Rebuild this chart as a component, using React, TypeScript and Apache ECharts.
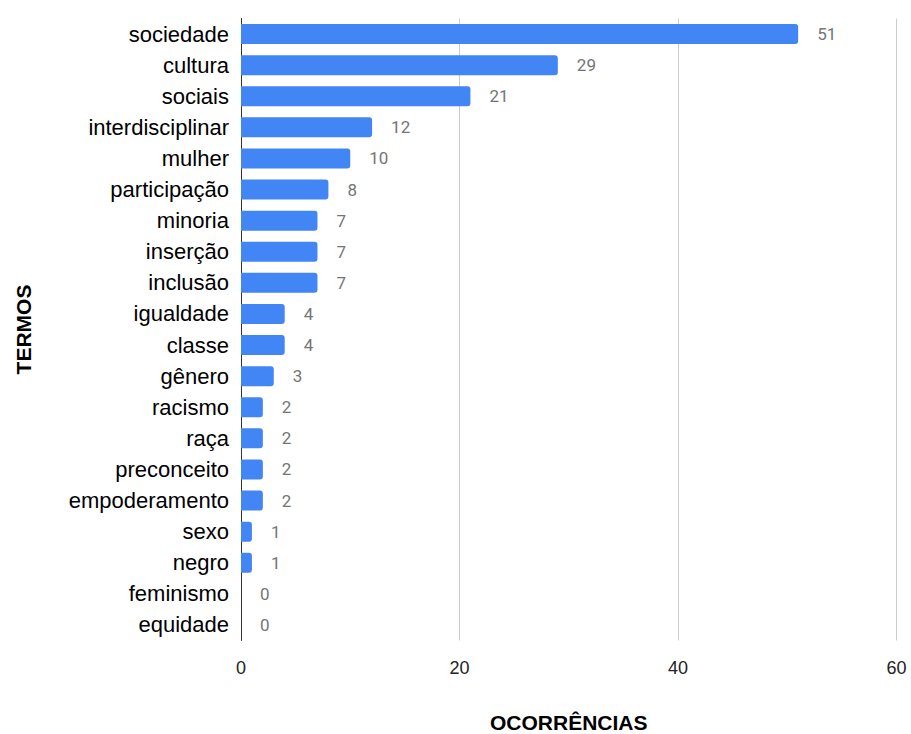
import React, { useEffect, useRef } from "react";
import * as echarts from "echarts";

const termos = [
  "sociedade", "cultura", "sociais", "interdisciplinar", "mulher",
  "participação", "minoria", "inserção", "inclusão", "igualdade",
  "classe", "gênero", "racismo", "raça", "preconceito",
  "empoderamento", "sexo", "negro", "feminismo", "equidade",
];
const ocorrencias = [51, 29, 21, 12, 10, 8, 7, 7, 7, 4, 4, 3, 2, 2, 2, 2, 1, 1, 0, 0];
const xTicks = { min: 0, max: 60, interval: 20 };

export default function App() {
  const ref = useRef<HTMLDivElement>(null);

  useEffect(() => {
    if (!ref.current) return;
    const chart = echarts.init(ref.current, null, { renderer: "svg" });
    chart.setOption({
      animation: false,
      grid: {
        left: 241,
        right: 14.5,
        top: 18.5,
        bottom: 93.5,
        containLabel: false,
        outerBoundsMode: "none",
      },
      xAxis: {
        type: "value",
        min: xTicks.min,
        max: xTicks.max,
        interval: xTicks.interval,
        axisLine: { show: false },
        axisTick: { show: false },
        splitLine: { lineStyle: { color: "#cccccc", width: 1 } },
        axisLabel: { fontFamily: "Liberation Sans, Arial, sans-serif", fontSize: 18, color: "#222", margin: 18 },
        name: "OCORRÊNCIAS",
        nameLocation: "middle",
        nameGap: 71,
        nameTextStyle: { fontFamily: "Liberation Sans, Arial, sans-serif", fontSize: 21, fontWeight: "bold", color: "#000" },
      },
      yAxis: {
        type: "category",
        inverse: true,
        data: termos,
        axisLine: { lineStyle: { color: "#333", width: 1 } },
        axisTick: { show: false },
        axisLabel: { fontFamily: "Liberation Sans, Arial, sans-serif", fontSize: 22, color: "#000", margin: 12 },
        name: "TERMOS",
        nameLocation: "middle",
        nameGap: 207,
        nameRotate: 90,
        nameTextStyle: { fontFamily: "Liberation Sans, Arial, sans-serif", fontSize: 21, fontWeight: "bold", color: "#000" },
      },
      series: [
        {
          type: "bar",
          data: ocorrencias,
          barWidth: 20,
          itemStyle: { color: "#4285f4", borderRadius: [0, 3, 3, 0] },
          label: {
            show: true,
            position: "right",
            distance: 19,
            fontFamily: "Roboto, sans-serif",
            fontSize: 17,
            color: "#757575",
          },
        },
      ],
    });
    return () => chart.dispose();
  }, []);

  return <div ref={ref} style={{ width: 911, height: 734, position: "absolute", left: 0, top: 0 }} />;
}
